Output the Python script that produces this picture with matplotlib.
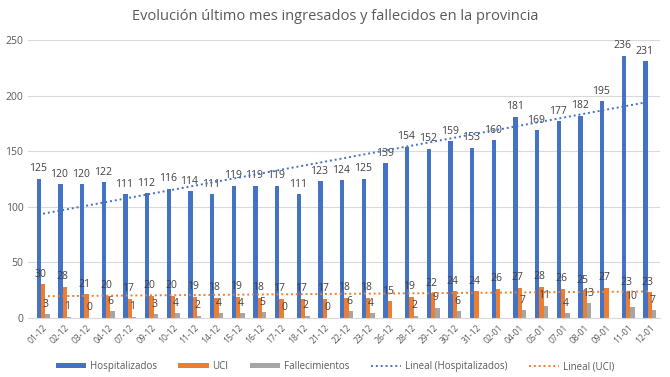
import numpy as np
import matplotlib.pyplot as plt

# datos
fechas = ['01-12', '02-12', '03-12', '04-12', '07-12', '09-12', '10-12', '11-12',
          '14-12', '15-12', '16-12', '17-12', '18-12', '21-12', '22-12', '23-12',
          '26-12', '28-12', '29-12', '30-12', '31-12', '02-01', '04-01', '05-01',
          '07-01', '08-01', '09-01', '11-01', '12-01']
hospitalizados = [125, 120, 120, 122, 111, 112, 116, 114, 111, 119, 119, 119, 111, 123,
                  124, 125, 139, 154, 152, 159, 153, 160, 181, 169, 177, 182, 195, 236, 231]
uci = [30, 28, 21, 20, 17, 20, 20, 19, 18, 19, 18, 17, 17, 17, 18, 18, 15, 19, 22, 24,
       24, 26, 27, 28, 26, 25, 27, 23, 23]
fallecimientos = [3, 1, 0, 6, 1, 3, 4, 2, 4, 4, 5, 0, 2, 0, 6, 4, None, 2, 9, 6,
                  None, None, 7, 11, 4, 13, None, 10, 7]

azul = '#4472C4'
naranja = '#ED7D31'
gris = '#A5A5A5'
txt = '#404040'
narrow = ['Liberation Sans Narrow', 'Open Sans', 'DejaVu Sans']

plt.rcParams['font.family'] = ['Open Sans', 'DejaVu Sans']

fig = plt.figure(figsize=(6.7, 3.77), dpi=100)
ax = fig.add_axes([0.042, 0.157, 0.943, 0.737])

x = np.arange(len(fechas))
w = 0.2
fall = np.array([np.nan if v is None else v for v in fallecimientos], dtype=float)

b1 = ax.bar(x - w, hospitalizados, w, color=azul, label='Hospitalizados', zorder=2)
b2 = ax.bar(x, uci, w, color=naranja, label='UCI', zorder=2)
b3 = ax.bar(x + w, fall, w, color=gris, label='Fallecimientos', zorder=2)

for i in range(len(fechas)):
    ax.text(x[i] - w - 0.05, hospitalizados[i] + 4, str(hospitalizados[i]),
            ha='center', va='bottom', fontsize=7.5, color=txt, family=narrow)
    ax.text(x[i] - 0.1, uci[i] + 4, str(uci[i]),
            ha='center', va='bottom', fontsize=7.5, color=txt, family=narrow)
    if not np.isnan(fall[i]):
        ax.text(x[i] + 0.12, fall[i] + 4, str(int(fall[i])),
                ha='center', va='bottom', fontsize=7.5, color=txt, family=narrow)

# lineas de tendencia
p1 = np.polyfit(x, hospitalizados, 1)
p2 = np.polyfit(x, uci, 1)
l1, = ax.plot(x, np.polyval(p1, x), color=azul, linestyle=(0, (1, 1.5)), lw=1.4,
              label='Lineal (Hospitalizados)', zorder=3)
l2, = ax.plot(x, np.polyval(p2, x), color=naranja, linestyle=(0, (1, 1.5)), lw=1.4,
              label='Lineal (UCI)', zorder=3)

ax.set_xlim(-0.69, len(fechas) - 0.54)
ax.set_ylim(0, 250)
ax.set_yticks(range(0, 251, 50))
ax.set_xticks(x)
ax.set_xticklabels(fechas, rotation=45, ha='right', rotation_mode='anchor',
                   fontsize=6.2, color='#595959')
ax.tick_params(axis='y', labelsize=7.5, colors='#595959', length=0)
ax.tick_params(axis='x', length=0, pad=4)
ax.grid(axis='y', color='#D9D9D9', lw=0.8, zorder=0)
for s in ['top', 'right', 'left']:
    ax.spines[s].set_visible(False)
ax.spines['bottom'].set_color('#D9D9D9')

fig.suptitle('Evolución último mes ingresados y fallecidos en la provincia',
             fontsize=10.5, color='#595959', y=0.975)
fig.legend([b1, b2, b3, l1, l2],
           ['Hospitalizados', 'UCI', 'Fallecimientos', 'Lineal (Hospitalizados)', 'Lineal (UCI)'],
           loc='lower center', ncol=5, frameon=False, fontsize=7,
           handlelength=3.1, handleheight=0.5, columnspacing=2.2, handletextpad=0.4,
           bbox_to_anchor=(0.5, -0.01), labelcolor='#595959')

plt.savefig('out.png', dpi=100)
